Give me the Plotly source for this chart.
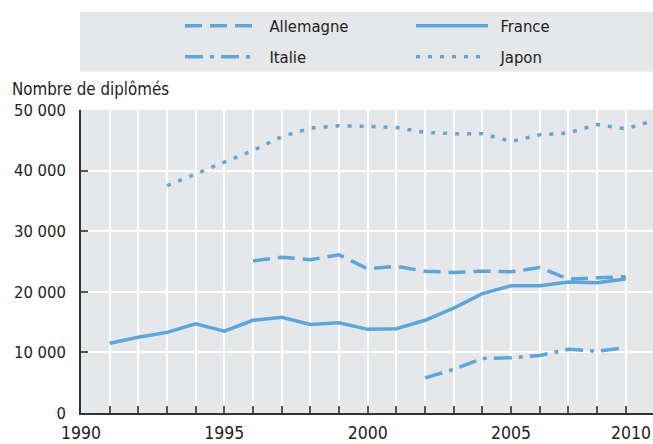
import plotly.graph_objects as go

# ---- data ----
years_fr = list(range(1991, 2010))
france = [11500, 12500, 13300, 14700, 13500, 15300, 15800, 14600, 14900, 13800,
          13900, 15300, 17300, 19700, 21000, 21000, 21600, 21500, 22100]
years_de = list(range(1996, 2010))
allemagne = [25100, 25700, 25300, 26100, 23800, 24200, 23400, 23200, 23400, 23300,
             24000, 22100, 22300, 22500]
years_it = list(range(2002, 2010))
italie = [5800, 7200, 9000, 9100, 9500, 10500, 10200, 10800]
years_jp = list(range(1993, 2011))
japon = [37500, 39500, 41400, 43300, 45600, 47000, 47400, 47300, 47100, 46300,
         46100, 46100, 44800, 45900, 46200, 47600, 46900, 48300]

x_tickvals = [1990, 1995, 2000, 2005]
x_ticktext = ["1990", "1995", "2000", "2005"]
y_tickvals = [0, 10000, 20000, 30000, 40000, 50000]
y_ticktext = ["0", "10 000", "20 000", "30 000", "40 000", "50 000"]

COLOR = "#5aa7dd"
BG = "#e6e7e8"
FONT = "Liberation Sans Narrow, DejaVu Sans Condensed, Arial Narrow, sans-serif"
LW = 3.5
SP = "\u2002"  # small spacing between legend key and label

fig = go.Figure()
fig.add_trace(go.Scatter(x=years_de, y=allemagne, name=SP + "Allemagne", mode="lines",
                         line=dict(color=COLOR, width=LW, dash="17px,8px"), legend="legend"))
fig.add_trace(go.Scatter(x=years_fr, y=france, name=SP + "France", mode="lines",
                         line=dict(color=COLOR, width=LW), legend="legend"))
fig.add_trace(go.Scatter(x=years_it, y=italie, name=SP + "Italie", mode="lines",
                         line=dict(color=COLOR, width=LW, dash="18px,7px,4px,7px"), legend="legend2"))
fig.add_trace(go.Scatter(x=years_jp, y=japon, name=SP + "Japon", mode="lines",
                         line=dict(color=COLOR, width=LW, dash="4px,8px"), legend="legend2"))

leg_common = dict(orientation="h", xanchor="left", yanchor="middle", bgcolor="rgba(0,0,0,0)",
                  font=dict(family=FONT, size=16.5, color="#222"), itemwidth=72,
                  entrywidth=144, itemclick=False, itemdoubleclick=False)

# plot area: top 110 px, bottom 413 px -> 303 px tall
def py(p):
    return (413 - p) / 303.0

def px(p):
    return (p - 81) / 572.0

fig.update_layout(
    width=653, height=444,
    margin=dict(l=81, r=0, t=110, b=31, autoexpand=False),
    paper_bgcolor="white", plot_bgcolor=BG,
    font=dict(family=FONT, size=16.5, color="#222"),
    showlegend=True,
    legend=dict(x=px(180), y=py(26), **leg_common),
    legend2=dict(x=px(180), y=py(57), **leg_common),
    shapes=[dict(type="rect", xref="paper", yref="paper", x0=px(80), x1=1.0,
                 y0=py(71.7), y1=py(11.7), fillcolor=BG, line=dict(width=0), layer="below")],
    annotations=[
        dict(text="Nombre de diplômés", xref="paper", yref="paper", x=px(10), y=py(89),
             xanchor="left", yanchor="middle", showarrow=False,
             font=dict(family=FONT, size=16.8, color="#222")),
        dict(text="2010", xref="paper", yref="paper", x=1.0, y=py(432.5),
             xanchor="right", yanchor="middle", showarrow=False,
             font=dict(family=FONT, size=17.5, color="#222")),
    ],
)

fig.update_xaxes(
    range=[1990, 2009.95], tickvals=x_tickvals, ticktext=x_ticktext,
    showgrid=True, gridcolor="white", gridwidth=2,
    ticks="inside", ticklen=7, tickwidth=1.5, tickcolor="#555",
    minor=dict(dtick=1, tick0=1990, showgrid=True, gridcolor="white", gridwidth=2,
               ticks="inside", ticklen=7, tickwidth=1.5, tickcolor="#555"),
    showline=True, linecolor="#333", linewidth=1.5,
    tickfont=dict(family=FONT, size=17.5, color="#222"),
    ticklabelstandoff=3, zeroline=False, fixedrange=True, automargin=False,
)
fig.update_yaxes(
    range=[0, 50000], tickvals=y_tickvals, ticktext=y_ticktext,
    showgrid=True, gridcolor="white", gridwidth=2,
    ticks="inside", ticklen=7, tickwidth=1.5, tickcolor="#555",
    showline=True, linecolor="#333", linewidth=1.5,
    tickfont=dict(family=FONT, size=16.5, color="#222"),
    ticklabelstandoff=10, zeroline=False, fixedrange=True, automargin=False,
)

fig.write_html("out.html", config={"displayModeBar": False},
               post_script="document.body.style.margin='0px';document.body.style.overflow='hidden';")
